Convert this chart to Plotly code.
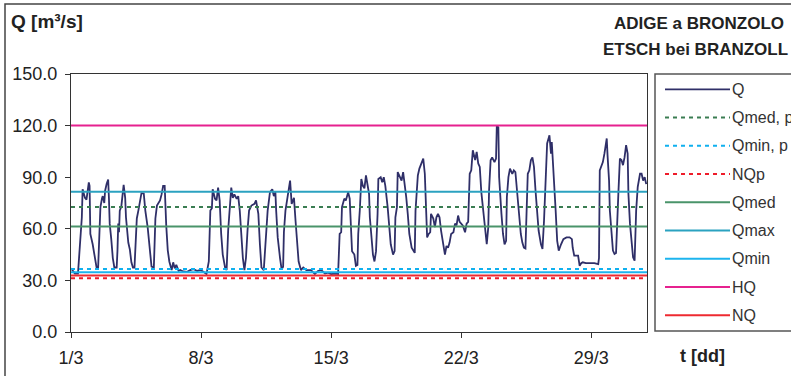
import datetime as dt
import plotly.graph_objects as go

# ---------------- data ----------------
base = dt.datetime(2013, 3, 1)
days_shown = 31

# hourly discharge Q [m3/s] (hours since 1/3 00:00)
hours = [0, 5, 9, 11, 14, 15, 18, 20, 23, 24, 25, 28, 31, 33, 35,
         37, 38, 40, 41, 43, 44, 46, 48, 49, 50, 52, 54, 56, 59,
         60, 61, 62, 63, 65, 67, 68, 70, 71, 74, 76, 78, 80,
         82, 84, 85, 87, 89, 91, 94, 96, 99, 102, 104,
         107, 108, 109, 111, 115, 117, 119, 121, 122, 123, 125, 127, 130,
         132, 134, 136, 139, 141, 145, 150, 154, 158, 163, 167, 171, 175, 178,
         180, 182, 183, 186, 188, 190, 192, 194, 196, 199, 201,
         203, 205, 207, 209, 211, 214, 216, 218, 220, 222, 224,
         226, 228, 230, 233, 237, 239, 242, 244, 246, 249,
         252, 254, 257, 260, 262, 264, 265, 267, 270, 272,
         274, 275, 277, 279, 281, 283, 285, 288, 290, 292, 294, 297,
         300, 304, 310, 315, 319, 323, 328, 332, 336, 341, 345,
         347, 349, 350, 353, 355, 358, 360, 361, 363, 366, 368, 370,
         371, 373, 375, 377, 379, 381, 383, 385, 386, 388, 390, 392, 394,
         396, 397, 400, 402, 404, 406, 409, 411, 413, 416, 418,
         419, 421, 422, 425, 427, 429, 431, 433, 435, 437, 440, 442, 444,
         445, 446, 448, 450, 452, 455, 457, 458, 459, 460, 462, 464, 465, 468, 470,
         472, 474, 476, 478, 481, 483, 485, 487, 489, 491, 494, 496, 498, 500, 502,
         504, 506, 509, 511, 513,
         515, 517, 519, 522, 524, 526, 528, 530, 532, 534, 537, 539,
         540, 542, 544, 547, 549, 550, 552, 553, 554, 556, 558, 560, 562,
         563, 565, 567, 570, 572, 574, 576, 579, 581, 583, 585, 587,
         588, 590, 592, 594, 596, 598, 600, 602, 604, 607, 609,
         611, 612, 614, 615, 618, 620, 621, 622, 624, 626, 628, 630, 633, 636, 640,
         644, 647, 648, 650, 655, 657, 659, 661, 665, 670, 676, 681,
         682, 683, 685, 687, 689, 692, 693, 695, 696, 698, 700, 702, 704,
         707, 709, 711, 713, 715, 717, 719, 720, 722, 724, 726, 728,
         730, 732, 735, 737, 739, 741, 743]

q_values = [37, 34, 34, 50, 66.7, 83, 78, 77, 87, 85, 57, 51, 41, 37.5, 37,
            59, 72.6, 77.6, 79, 75, 82, 86, 88.7, 77.6, 63, 54, 43, 37.5, 37.5,
            47, 63, 58, 70.6, 73, 85, 85.5, 78, 66.7, 52, 48, 40.5, 37.5,
            37.5, 64.8, 66, 70.6, 75.5, 80.7, 80.5, 70.6, 61, 49, 38,
            37.5, 64.8, 66, 73.5, 76.5, 80, 85, 85, 72.6, 62, 47.5, 41, 36,
            40.5, 37, 39, 35.5, 36, 35.2, 35, 36, 36.6, 35.5, 36, 35, 33.7, 41,
            70.6, 72, 83, 77.5, 76.5, 84, 76.5, 57, 45, 37.5, 36,
            59, 70.6, 84, 78, 80, 77.5, 79, 70.6, 55, 43, 36,
            43, 59, 70.6, 73.5, 74.5, 76.5, 68.7, 51, 37.5, 36,
            55, 70.6, 81.3, 83, 79, 81.3, 70.6, 55, 43, 36.5,
            38, 58, 70.6, 77.5, 82, 88, 74.5, 78, 64.8, 51, 41, 36,
            37.5, 36, 36, 33.7, 35.5, 36, 34, 34.5, 33.7, 34, 33.7,
            57, 58, 72.6, 77.5, 76.5, 81.3, 77.5, 64.8, 47, 45, 38.5, 39,
            57, 70.6, 89, 85, 83.5, 91, 85, 80.3, 66.7, 53, 45, 41, 47,
            68.7, 89, 90, 87, 90, 85, 72.6, 61, 51, 45, 47,
            66.7, 72.6, 93, 90, 88, 93, 87, 78.4, 68.7, 57, 49, 47.5, 46,
            70.6, 80, 91, 95, 97, 100.8, 92, 74.5, 61, 55, 57, 58, 68.7, 66, 61,
            66.7, 68.7, 66.7, 59, 51, 45, 50, 49, 52, 57, 58, 63, 62, 67.7, 64,
            63, 62, 58, 63, 64,
            92, 94, 105.7, 100, 104.7, 98, 96, 81.3, 72.6, 61, 51, 61,
            82.3, 99.8, 101.5, 98.8, 100.8, 120, 119, 90, 80.3, 68.7, 57, 51, 53,
            78.4, 90, 95, 92, 94, 93, 81.3, 66.7, 57, 52, 49, 48.5,
            70, 92, 94, 99.8, 101.5, 96, 82.3, 70.6, 59, 51, 48.3,
            64.8, 78.4, 96, 109.6, 114.4, 103.7, 110.5, 103.7, 90, 70.6, 53, 47.3, 51, 54, 55,
            55, 54, 49, 44.4, 44.4, 38.5, 40, 40.5, 40, 40, 40, 39.5,
            43, 94, 96, 98.8, 103.7, 112.5, 103, 88, 70.6, 57, 47.3, 45.4, 46,
            80.3, 100.8, 100, 97, 101.5, 108.6, 103.7, 80.3, 63, 51, 43.4, 41.5,
            70.6, 84.2, 92, 92, 88, 90, 86]

# reference levels [m3/s]
ref_names = ["Qmed, p", "Qmin, p", "NQp", "Qmed", "Qmax", "Qmin", "HQ", "NQ"]
ref_values = [72.7, 36.6, 31.3, 61.3, 81.6, 34.8, 120.0, 32.8]

tick_days = [1, 8, 15, 22, 29]
tick_labels = ["1/3", "8/3", "15/3", "22/3", "29/3"]
y_ticks = [0, 30, 60, 90, 120, 150]

# ---------------- styles ----------------
q_color = "#2f2f68"
ref_styles = {
    "Qmed, p": dict(color="#3a7d52", dash="4px,4px"),
    "Qmin, p": dict(color="#10b0ee", dash="4px,4px"),
    "NQp": dict(color="#ee1c2a", dash="4px,4px"),
    "Qmed": dict(color="#4a946a", dash="solid"),
    "Qmax": dict(color="#2ba2c0", dash="solid"),
    "Qmin": dict(color="#1cb4ee", dash="solid"),
    "HQ": dict(color="#e6218f", dash="solid"),
    "NQ": dict(color="#ee2a30", dash="solid"),
}
FONT = "Liberation Sans, Arial, sans-serif"
TXT = "#222222"

# plot-area geometry in pixels (for decorations)
W, H = 791, 376
L, R, T, B = 71, 144, 74, 44
PW, PH = W - L - R, H - T - B


def px(xp):
    return (xp - L) / PW


def py(yp):
    return (H - B - yp) / PH


x_q = [base + dt.timedelta(hours=h) for h in hours]
x_start = base
x_end = base + dt.timedelta(days=days_shown)

fig = go.Figure()
fig.add_trace(go.Scatter(x=x_q, y=q_values, mode="lines", name="Q",
                         line=dict(color=q_color, width=1.8), showlegend=False))
for name, val in zip(ref_names, ref_values):
    st = ref_styles[name]
    fig.add_trace(go.Scatter(x=[x_start, x_end], y=[val, val], mode="lines", name=name,
                             line=dict(color=st["color"], width=2, dash=st["dash"]),
                             showlegend=False))

fig.update_layout(
    width=W, height=H,
    margin=dict(l=L, r=R, t=T, b=B, autoexpand=False),
    paper_bgcolor="white", plot_bgcolor="white",
    font=dict(family=FONT, size=17, color=TXT),
    showlegend=False,
)
fig.update_xaxes(
    type="date", range=[x_start, x_end],
    tickvals=[base + dt.timedelta(days=d - 1) for d in tick_days], ticktext=tick_labels,
    ticks="outside", ticklen=5, tickcolor="#333", showgrid=False, zeroline=False,
    showline=True, linecolor="#333", linewidth=1.2, mirror=True,
    tickfont=dict(size=18, color=TXT, family=FONT), ticklabelstandoff=4,
)
fig.update_yaxes(
    range=[0, 150], tickvals=y_ticks, tickformat=".1f",
    ticks="outside", ticklen=5, tickcolor="#333", showgrid=False, zeroline=False,
    showline=True, linecolor="#333", linewidth=1.2, mirror=True,
    tickfont=dict(size=18, color=TXT, family=FONT), ticklabelstandoff=4,
)

shapes = []
# outer frame of the picture
shapes.append(dict(type="rect", xref="paper", yref="paper",
                   x0=px(5), x1=px(900), y0=py(500), y1=py(4),
                   line=dict(color="#444", width=1.5)))
# legend box
shapes.append(dict(type="rect", xref="paper", yref="paper",
                   x0=px(655), x1=px(900), y0=py(331), y1=py(74),
                   line=dict(color="#555", width=1.5)))
annotations = []
legend_names = ["Q"] + ref_names
for i, name in enumerate(legend_names):
    yy = 89.3 + 28.25 * i
    if name == "Q":
        col, dash, wd = q_color, "solid", 1.8
    else:
        col, dash, wd = ref_styles[name]["color"], ref_styles[name]["dash"], 2
    shapes.append(dict(type="line", xref="paper", yref="paper",
                       x0=px(665), x1=px(730), y0=py(yy), y1=py(yy),
                       line=dict(color=col, width=wd, dash=dash)))
    annotations.append(dict(xref="paper", yref="paper", x=px(730), y=py(yy),
                            xanchor="left", yanchor="middle", showarrow=False,
                            text=name, font=dict(size=16, color="#333", family=FONT)))

annotations += [
    dict(xref="paper", yref="paper", x=px(9), y=py(21), xanchor="left", yanchor="middle",
         showarrow=False, text="<b>Q [m³/s]</b>", font=dict(size=19, color=TXT, family=FONT)),
    dict(xref="paper", yref="paper", x=px(786), y=py(23), xanchor="right", yanchor="middle",
         showarrow=False, text="<b>ADIGE a BRONZOLO</b>", font=dict(size=17, color=TXT, family=FONT)),
    dict(xref="paper", yref="paper", x=px(790), y=py(49), xanchor="right", yanchor="middle",
         showarrow=False, text="<b>ETSCH bei BRANZOLL</b>", font=dict(size=17, color=TXT, family=FONT)),
    dict(xref="paper", yref="paper", x=px(678), y=py(356), xanchor="left", yanchor="middle",
         showarrow=False, text="<b>t [dd]</b>", font=dict(size=18, color=TXT, family=FONT)),
]
fig.update_layout(shapes=shapes, annotations=annotations)

fig.write_html("out.html", config={"displayModeBar": False},
               post_script="document.body.style.margin='0';")
